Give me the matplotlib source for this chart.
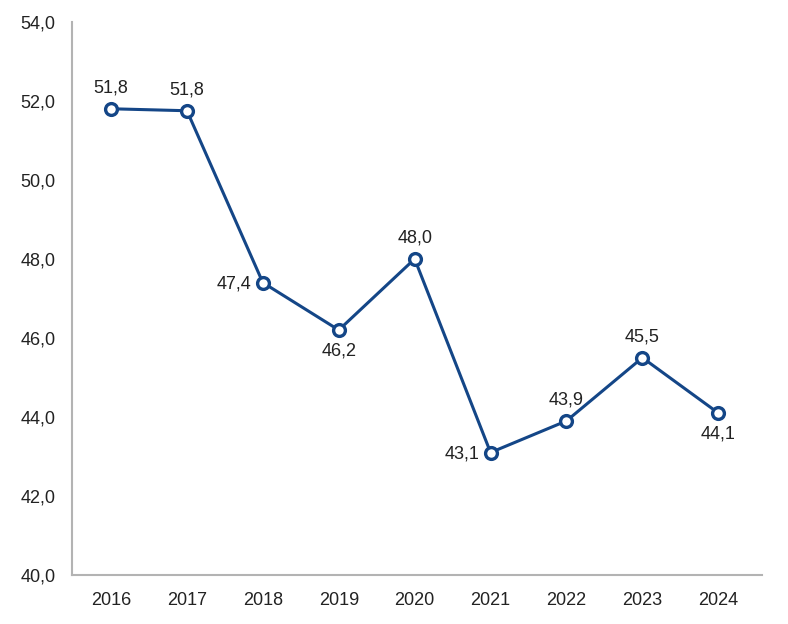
import matplotlib
matplotlib.use("Agg")
from matplotlib import pyplot as plt

plt.rcParams['font.family'] = ['Liberation Sans', 'DejaVu Sans']

years = ["2016", "2017", "2018", "2019", "2020", "2021", "2022", "2023", "2024"]
values = [51.8, 51.75, 47.4, 46.2, 48.0, 43.1, 43.9, 45.5, 44.1]
labels = ["51,8", "51,8", "47,4", "46,2", "48,0", "43,1", "43,9", "45,5", "44,1"]
# where each value label sits relative to its point
label_pos = ["above", "above", "left", "below", "above", "left", "above", "above", "below"]
yticks = [40, 42, 44, 46, 48, 50, 52, 54]

line_color = "#144687"
axis_color = "#b3b3b3"

fig = plt.figure(figsize=(7.88, 6.24), dpi=100)
ax = fig.add_axes([0.0914, 0.0785, 0.876, 0.8865])

xs = list(range(len(years)))
ax.plot(xs, values, color=line_color, linewidth=2.2, marker="o", markersize=8.5,
        markerfacecolor="white", markeredgecolor=line_color, markeredgewidth=2.4, zorder=3)

offsets = {"above": (0, 9, "center", "bottom"),
           "below": (0, -9, "center", "top"),
           "left": (-8, -1, "right", "center")}
for x, v, t, p in zip(xs, values, labels, label_pos):
    dx, dy, ha, va = offsets[p]
    ax.annotate(t, (x, v), xytext=(dx, dy), textcoords="offset points",
                ha=ha, va=va, fontsize=13, color="#222222")

ax.set_xlim(-0.514, 8.58)
ax.set_ylim(40, 54)
ax.set_yticks(yticks)
ax.set_yticklabels([("%.1f" % t).replace(".", ",") for t in yticks])
ax.set_xticks(xs)
ax.set_xticklabels(years)

for s in ["top", "right"]:
    ax.spines[s].set_visible(False)
for s in ["left", "bottom"]:
    ax.spines[s].set_color(axis_color)
    ax.spines[s].set_linewidth(1.5)
ax.tick_params(axis="both", length=0, labelsize=13, colors="#222222")
ax.tick_params(axis="y", pad=12)
ax.tick_params(axis="x", pad=12)

plt.savefig("out.png", dpi=100, facecolor="white")
